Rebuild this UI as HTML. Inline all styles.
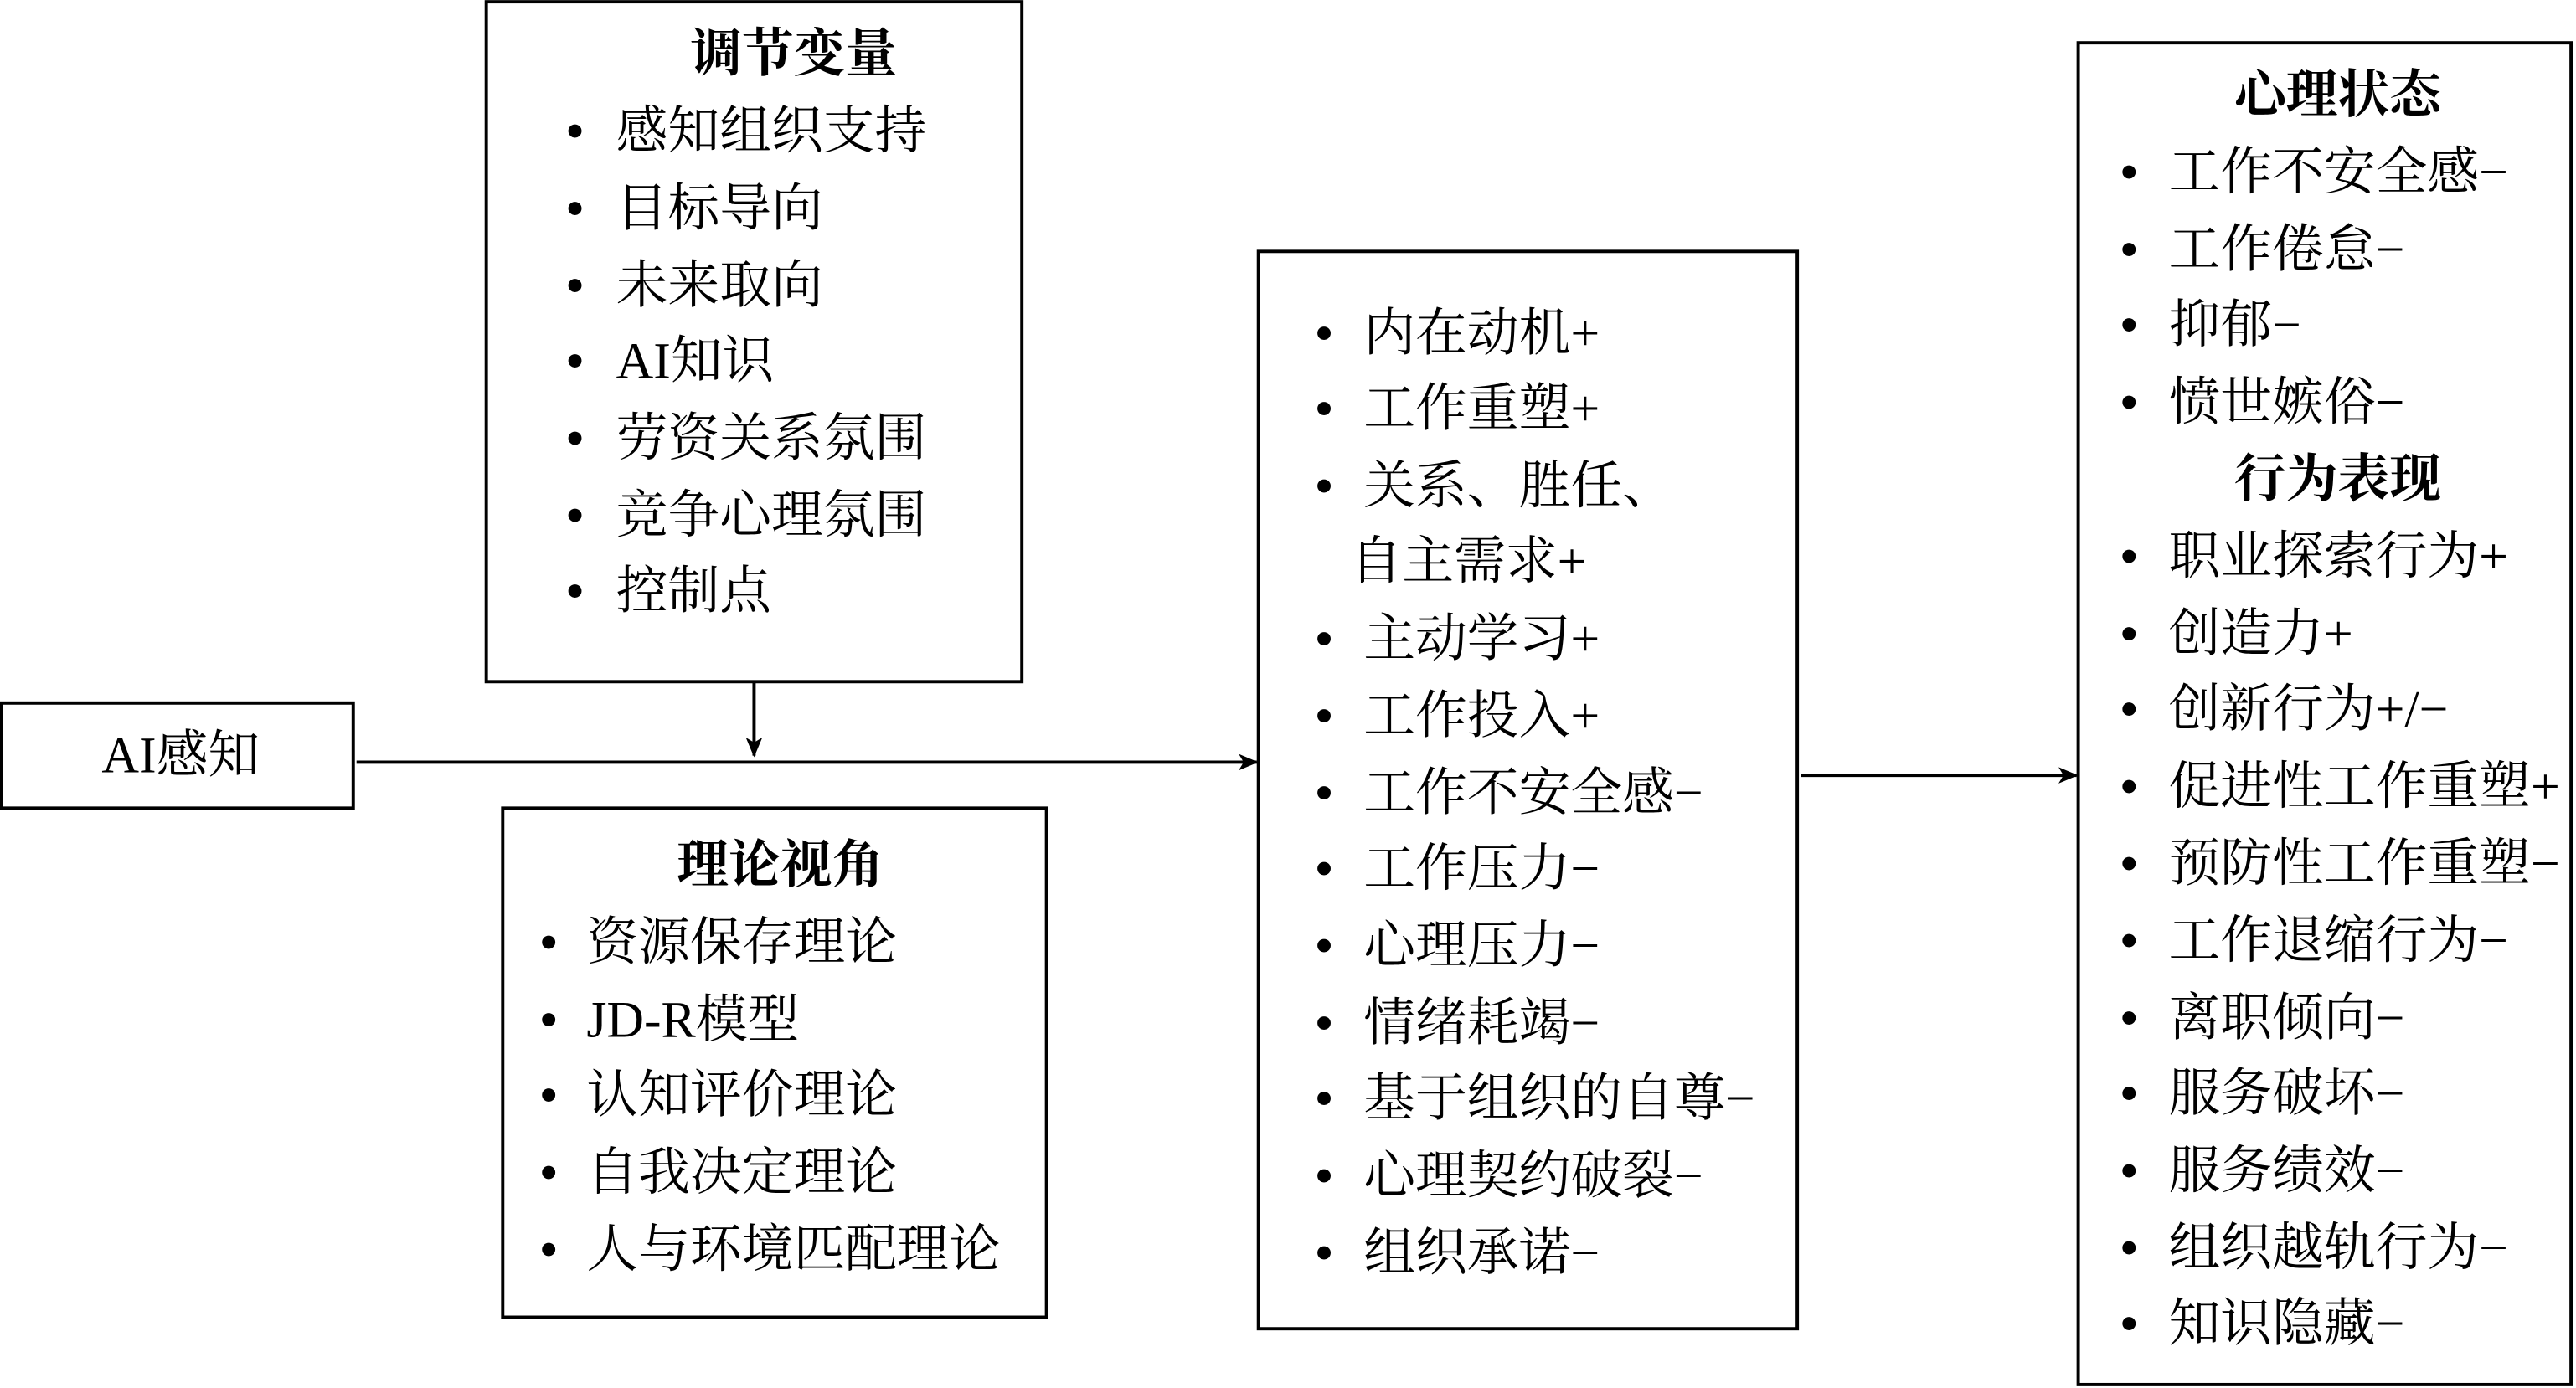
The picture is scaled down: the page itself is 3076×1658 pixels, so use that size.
<!DOCTYPE html>
<html><head><meta charset="utf-8"><style>
html,body{margin:0;padding:0;background:#fff;}
svg{display:block;}
text{font-family:"Liberation Serif","Noto Serif CJK SC",serif;font-size:31.5px;fill:#000;dominant-baseline:central;}
.t{font-weight:bold;text-anchor:middle;}
.b{font-size:34px;}
</style></head><body>
<svg width="3076" height="1658" viewBox="0 0 1568 845" xmlns="http://www.w3.org/2000/svg">
<defs><marker id="a" markerWidth="12" markerHeight="10" refX="11" refY="5" orient="auto" markerUnits="userSpaceOnUse"><path d="M0,0 L12,5 L0,10 L3,5 Z" fill="#000"/></marker></defs>
<g fill="none" stroke="#000" stroke-width="2">
<rect x="296" y="1" width="326" height="414"/>
<rect x="1" y="428" width="214" height="64"/>
<rect x="306" y="492" width="331" height="310"/>
<rect x="766" y="153" width="328" height="656"/>
<rect x="1265" y="26" width="300" height="817"/>
<line x1="459" y1="415" x2="459" y2="460" marker-end="url(#a)"/>
<line x1="217" y1="464" x2="765" y2="464" marker-end="url(#a)"/>
<line x1="1096" y1="472" x2="1264" y2="472" marker-end="url(#a)"/>
</g>
<text x="483" y="33" class="t">调节变量</text>
<g>
<text class="b" x="344" y="80">•</text><text x="375" y="80">感知组织支持</text>
<text class="b" x="344" y="127">•</text><text x="375" y="127">目标导向</text>
<text class="b" x="344" y="174">•</text><text x="375" y="174">未来取向</text>
<text class="b" x="344" y="220">•</text><text x="375" y="220">AI知识</text>
<text class="b" x="344" y="267">•</text><text x="375" y="267">劳资关系氛围</text>
<text class="b" x="344" y="314">•</text><text x="375" y="314">竞争心理氛围</text>
<text class="b" x="344" y="360">•</text><text x="375" y="360">控制点</text>
</g>
<text x="110" y="460" style="text-anchor:middle">AI感知</text>
<text x="475" y="527" class="t">理论视角</text>
<g>
<text class="b" x="328" y="574">•</text><text x="357" y="574">资源保存理论</text>
<text class="b" x="328" y="621">•</text><text x="357" y="621">JD-R模型</text>
<text class="b" x="328" y="667">•</text><text x="357" y="667">认知评价理论</text>
<text class="b" x="328" y="714">•</text><text x="357" y="714">自我决定理论</text>
<text class="b" x="328" y="761">•</text><text x="357" y="761">人与环境匹配理论</text>
</g>
<g>
<text class="b" x="800" y="203">•</text><text x="830" y="203">内在动机+</text>
<text class="b" x="800" y="249">•</text><text x="830" y="249">工作重塑+</text>
<text class="b" x="800" y="296">•</text><text x="830" y="296">关系、胜任、</text>
<text x="822" y="342">自主需求+</text>
<text class="b" x="800" y="389">•</text><text x="830" y="389">主动学习+</text>
<text class="b" x="800" y="436">•</text><text x="830" y="436">工作投入+</text>
<text class="b" x="800" y="483">•</text><text x="830" y="483">工作不安全感−</text>
<text class="b" x="800" y="529">•</text><text x="830" y="529">工作压力−</text>
<text class="b" x="800" y="576">•</text><text x="830" y="576">心理压力−</text>
<text class="b" x="800" y="623">•</text><text x="830" y="623">情绪耗竭−</text>
<text class="b" x="800" y="669">•</text><text x="830" y="669">基于组织的自尊−</text>
<text class="b" x="800" y="716">•</text><text x="830" y="716">心理契约破裂−</text>
<text class="b" x="800" y="763">•</text><text x="830" y="763">组织承诺−</text>
</g>
<text x="1423" y="58" class="t">心理状态</text>
<text x="1423" y="292" class="t">行为表现</text>
<g>
<text class="b" x="1290" y="105">•</text><text x="1320" y="105">工作不安全感−</text>
<text class="b" x="1290" y="152">•</text><text x="1320" y="152">工作倦怠−</text>
<text class="b" x="1290" y="198">•</text><text x="1320" y="198">抑郁−</text>
<text class="b" x="1290" y="245">•</text><text x="1320" y="245">愤世嫉俗−</text>
<text class="b" x="1290" y="339">•</text><text x="1320" y="339">职业探索行为+</text>
<text class="b" x="1290" y="386">•</text><text x="1320" y="386">创造力+</text>
<text class="b" x="1290" y="432">•</text><text x="1320" y="432">创新行为+/−</text>
<text class="b" x="1290" y="479">•</text><text x="1320" y="479">促进性工作重塑+</text>
<text class="b" x="1290" y="526">•</text><text x="1320" y="526">预防性工作重塑−</text>
<text class="b" x="1290" y="573">•</text><text x="1320" y="573">工作退缩行为−</text>
<text class="b" x="1290" y="620">•</text><text x="1320" y="620">离职倾向−</text>
<text class="b" x="1290" y="666">•</text><text x="1320" y="666">服务破坏−</text>
<text class="b" x="1290" y="713">•</text><text x="1320" y="713">服务绩效−</text>
<text class="b" x="1290" y="760">•</text><text x="1320" y="760">组织越轨行为−</text>
<text class="b" x="1290" y="806">•</text><text x="1320" y="806">知识隐藏−</text>
</g>
</svg>
</body></html>
